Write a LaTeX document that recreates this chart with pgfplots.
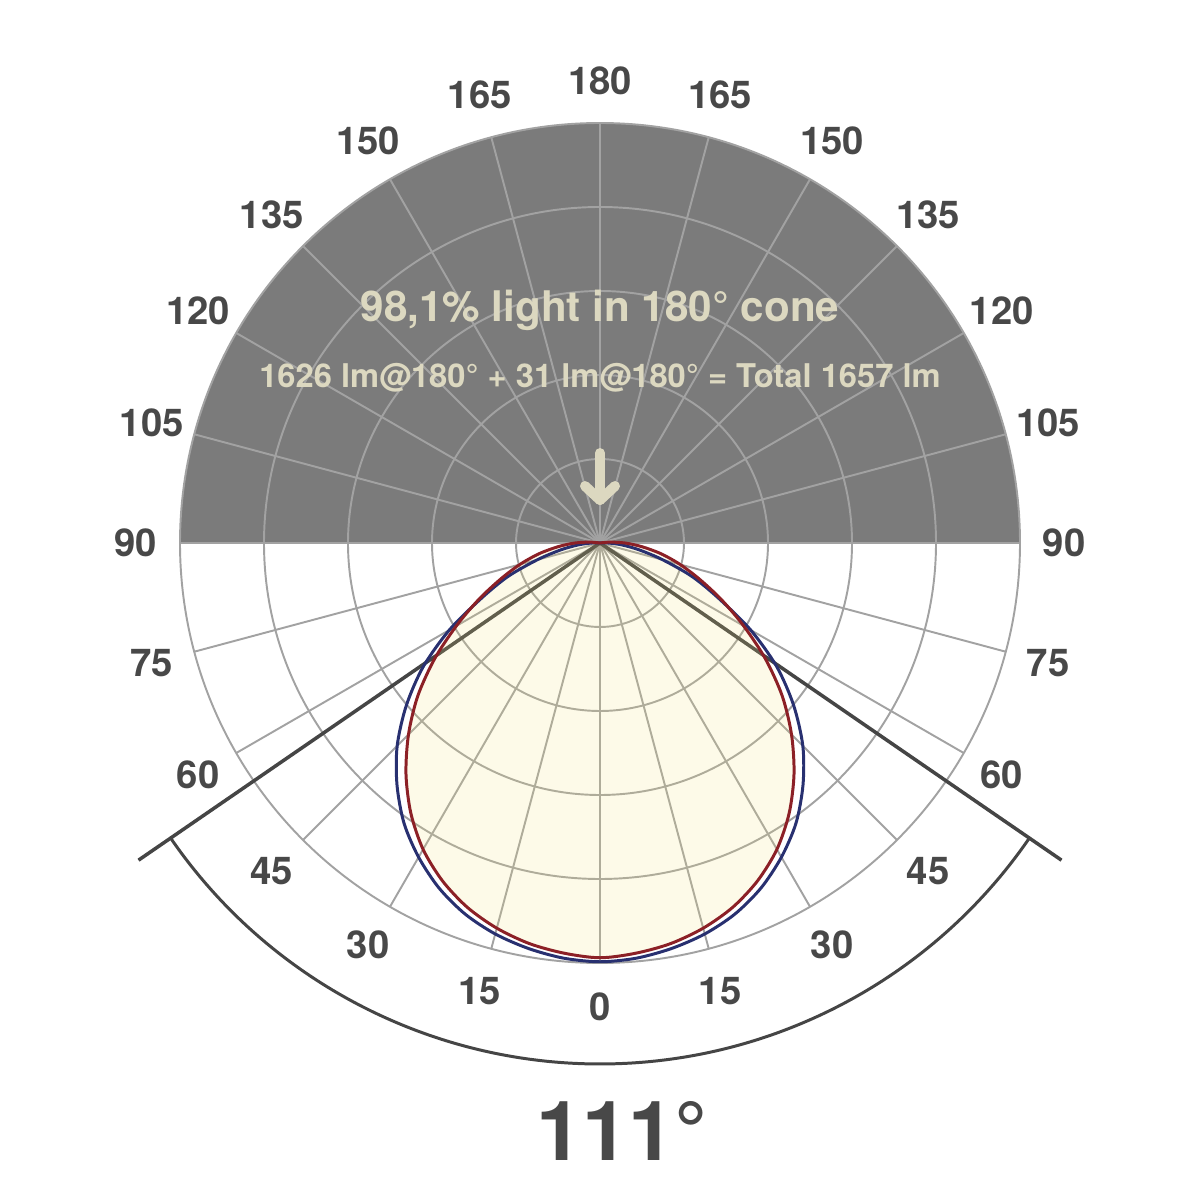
\documentclass[border=0pt]{standalone}
\usepackage{pgfplots}
\pgfplotsset{compat=1.18}
\usepackage{fontspec}
\setmainfont{TeX Gyre Heros}
\definecolor{darkfill}{HTML}{7B7B7B}
\definecolor{gridc}{HTML}{A2A2A2}
\definecolor{beamc}{HTML}{454545}
\definecolor{lightfill}{RGB}{243,225,120}
\definecolor{redc}{RGB}{140,32,38}
\definecolor{bluec}{RGB}{40,48,112}
\definecolor{beige}{HTML}{DCD8C0}
\definecolor{labelc}{HTML}{484848}

\begin{document}
\begin{tikzpicture}
\begin{axis}[
  x=0.01cm, y=0.01cm,
  xmin=-600, xmax=600, ymin=-657, ymax=543,
  hide axis, clip=false,
]
% upper half
\fill[darkfill] (axis cs:-420,0) arc[start angle=180, end angle=0, radius=4.2cm] -- cycle;
% grid
\pgfplotsinvokeforeach{0.84,1.68,2.52,3.36,4.2}{
  \draw[gridc, line width=0.55pt] (axis cs:0,0) circle[radius=#1cm];
}
\pgfplotsinvokeforeach{0,15,...,345}{
  \draw[gridc, line width=0.55pt] (axis cs:0,0) -- ++(#1:4.2cm);
}
% beam angle 111 deg
\draw[beamc, line width=1pt] (axis cs:0,0) -- ++(-145.5:5.6cm);
\draw[beamc, line width=1pt] (axis cs:0,0) -- ++(-34.5:5.6cm);
\draw[beamc, line width=0.85pt] (axis cs:0,0) ++(-145.5:5.21cm) arc[start angle=-145.5, end angle=-34.5, radius=5.21cm];

% C0-C180 (red), fill
\addplot[draw=none, fill=lightfill, fill opacity=0.17, data cs=polar, smooth, tension=0.5] coordinates {
(0,0) (-185,10) (-180,25) (-175,42) (-170,62) (-165,83) (-160,106) (-155,134) (-150,166)
(-145,202) (-140,238) (-135,271) (-130,302) (-125,330) (-120,354) (-115,373)
(-110,388) (-105,399) (-100,407) (-95,412) (-90,415)
(-85,412) (-80,407) (-75,399) (-70,388) (-65,373) (-60,354) (-55,330) (-50,302)
(-45,271) (-40,238) (-35,202) (-30,166) (-25,134) (-20,106) (-15,83) (-10,62)
(-5,42) (0,25) (5,10) (0,0)
} -- cycle;
% C90-C270 (blue)
\addplot[bluec, line width=0.85pt, data cs=polar, smooth, tension=0.5] coordinates {
(0,0) (-180,8) (-175,22) (-170,40) (-165,65) (-160,98) (-155,131) (-150,174)
(-145,216) (-140,253) (-135,287) (-130,316) (-125,342) (-120,363) (-115,381)
(-110,395) (-105,405) (-100,412) (-95,417) (-90,419)
(-85,417) (-80,412) (-75,405) (-70,395) (-65,381) (-60,363) (-55,342) (-50,316)
(-45,287) (-40,253) (-35,216) (-30,174) (-25,131) (-20,98) (-15,65) (-10,40)
(-5,22) (0,8) (0,0)
};
% C0-C180 (red), line
\addplot[redc, line width=0.85pt, data cs=polar, smooth, tension=0.5] coordinates {
(0,0) (-185,10) (-180,25) (-175,42) (-170,62) (-165,83) (-160,106) (-155,134) (-150,166)
(-145,202) (-140,238) (-135,271) (-130,302) (-125,330) (-120,354) (-115,373)
(-110,388) (-105,399) (-100,407) (-95,412) (-90,415)
(-85,412) (-80,407) (-75,399) (-70,388) (-65,373) (-60,354) (-55,330) (-50,302)
(-45,271) (-40,238) (-35,202) (-30,166) (-25,134) (-20,106) (-15,83) (-10,62)
(-5,42) (0,25) (5,10) (0,0)
};

% texts in the upper half
\node[beige, font=\bfseries\fontsize{12}{14}\selectfont] at (axis cs:0,233) {98,1\% light in 180° cone};
\node[beige, font=\bfseries\fontsize{9.3}{11}\selectfont] at (axis cs:0,165) {1626 lm@180° + 31 lm@180° = Total 1657 lm};
\draw[beige, line width=2.85pt, line cap=round, line join=round] (axis cs:0,90) -- (axis cs:0,43);
\draw[beige, line width=2.85pt, line cap=round, line join=round] (axis cs:-15,57) -- (axis cs:0,43) -- (axis cs:15,57);

\coordinate (O) at (axis cs:0,0);
\end{axis}

% angle labels
\tikzset{lab/.style={labelc, font=\bfseries\fontsize{10.9}{12}\selectfont}}
\path (O) ++(-90:4.64cm) node[lab] {0};
\path (O) ++(90:4.62cm) node[lab] {180};
\foreach \t in {15,30,...,165} {
  \path (O) ++(-90+\t:4.64cm) node[lab] {\t};
  \path (O) ++(-90-\t:4.64cm) node[lab] {\t};
}
\node[labelc, font=\bfseries\fontsize{23.6}{26}\selectfont] at ([xshift=0.22cm, yshift=-5.88cm]O) {111°};

\pgfresetboundingbox
\path ([xshift=-6cm, yshift=-6.57cm]O) rectangle ([xshift=6cm, yshift=5.43cm]O);
\end{tikzpicture}
\end{document}
